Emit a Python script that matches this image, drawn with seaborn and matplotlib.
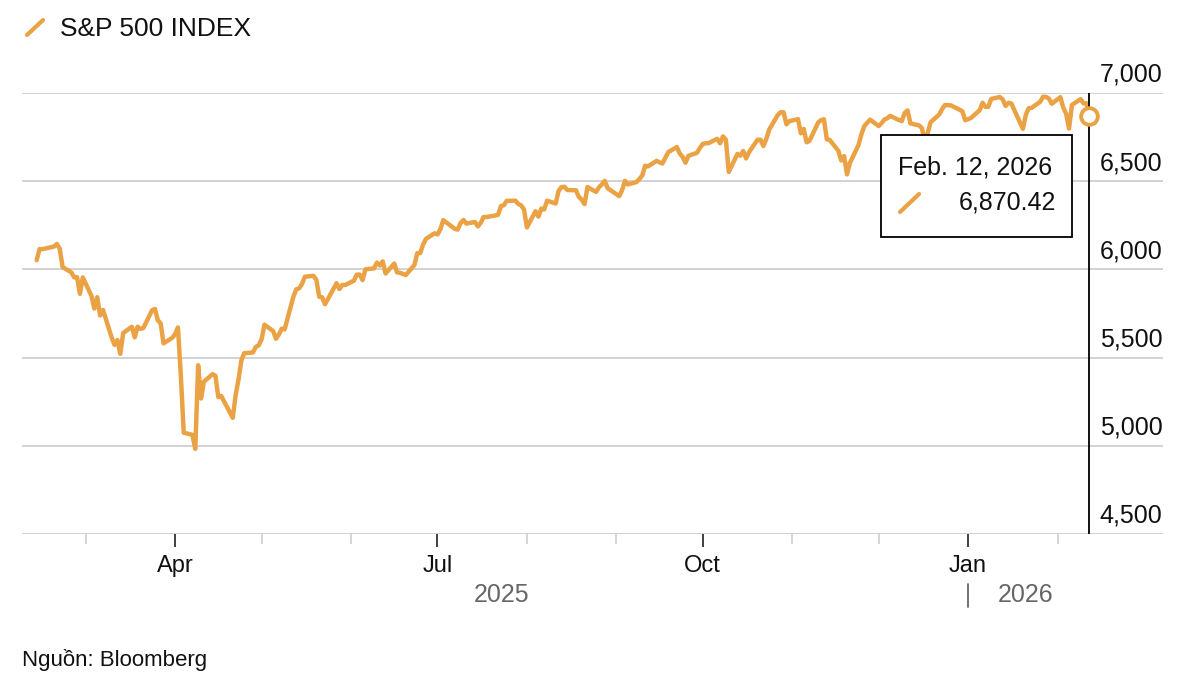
import matplotlib
matplotlib.use("Agg")
import matplotlib.pyplot as plt
import matplotlib.dates as mdates
import matplotlib.transforms as mtransforms
from matplotlib.lines import Line2D
from matplotlib.patches import Rectangle
import numpy as np
import pandas as pd
import seaborn as sns

# S&P 500 Schlusskurse, Handelstage 12.02.2025 - 12.02.2026
feb_25 = [6051.97, 6115.07, 6114.63, 6129.58, 6144.15, 6117.52, 6013.13, 5983.25, 5955.25, 5956.06, 5861.57, 5954.50]
mar_25 = [5849.72, 5778.15, 5842.63, 5738.52, 5770.20, 5614.56, 5572.07, 5599.30, 5521.52, 5638.94, 5675.12,
          5614.66, 5675.29, 5662.89, 5667.56, 5767.57, 5776.65, 5712.20, 5693.31, 5580.94, 5611.85]
apr_25 = [5633.07, 5670.97, 5396.52, 5074.08, 5062.25, 4982.77, 5456.90, 5268.05, 5363.36, 5405.97, 5396.63,
          5275.70, 5282.70, 5158.20, 5287.76, 5375.86, 5484.77, 5525.21, 5528.75, 5560.83, 5569.06]
may_25 = [5604.14, 5686.67, 5650.38, 5606.91, 5631.28, 5663.94, 5659.91, 5844.19, 5886.55, 5892.58, 5916.93,
          5958.38, 5963.60, 5940.46, 5844.61, 5842.01, 5802.82, 5921.54, 5888.55, 5912.17, 5911.69]
jun_25 = [5935.94, 5970.37, 5970.81, 5939.30, 6000.36, 6005.88, 6038.81, 6022.24, 6045.26, 5976.97, 6033.11,
          5982.72, 5980.87, 5967.84, 6025.17, 6092.18, 6092.16, 6141.02, 6173.07, 6204.95]
jul_25 = [6198.01, 6227.42, 6279.35, 6229.98, 6225.52, 6263.26, 6280.46, 6259.75, 6268.56, 6243.76, 6263.70,
          6297.36, 6296.79, 6305.60, 6309.62, 6358.91, 6363.35, 6388.64, 6389.77, 6370.86, 6362.90, 6339.39]
aug_25 = [6238.01, 6329.94, 6299.19, 6345.06, 6340.00, 6389.45, 6373.45, 6445.76, 6466.58, 6468.54, 6449.80,
          6449.15, 6411.37, 6395.78, 6370.17, 6466.91, 6439.32, 6465.94, 6481.40, 6501.86, 6460.26]
sep_25 = [6415.54, 6448.26, 6502.08, 6481.50, 6495.15, 6512.61, 6532.04, 6587.47, 6584.29, 6615.28, 6606.76,
          6600.35, 6631.96, 6664.36, 6693.75, 6656.92, 6637.97, 6604.72, 6643.70, 6661.21, 6688.46]
oct_25 = [6711.20, 6715.35, 6715.79, 6740.28, 6714.59, 6753.72, 6735.11, 6552.51, 6654.72, 6644.31, 6671.06,
          6629.07, 6664.01, 6735.13, 6735.35, 6699.40, 6738.44, 6791.69, 6875.16, 6890.89, 6890.59, 6822.34, 6840.20]
nov_25 = [6851.97, 6771.55, 6796.29, 6720.32, 6728.80, 6832.43, 6846.61, 6850.92, 6737.49, 6734.11, 6672.41,
          6617.32, 6642.16, 6538.76, 6602.99, 6705.12, 6765.88, 6812.61, 6849.09]
dec_25 = [6812.63, 6829.37, 6849.72, 6857.12, 6870.40, 6846.51, 6840.51, 6886.68, 6901.00, 6827.41, 6816.51,
          6800.26, 6721.43, 6774.76, 6834.50, 6878.49, 6909.79, 6932.05, 6929.94, 6905.74, 6896.24, 6845.50]
jan_26 = [6858.47, 6902.05, 6944.82, 6920.93, 6921.46, 6966.28, 6977.27, 6963.74, 6926.60, 6944.47, 6940.01,
          6796.86, 6875.62, 6913.35, 6915.61, 6950.23, 6978.60, 6978.03, 6969.01, 6939.03]
feb_26 = [6976.44, 6917.81, 6882.72, 6798.40, 6932.30, 6964.82, 6941.81, 6941.47, 6870.42]

feiertage = ["2025-02-17", "2025-04-18", "2025-05-26", "2025-06-19", "2025-07-04", "2025-09-01",
             "2025-11-27", "2025-12-25", "2026-01-01", "2026-01-19"]

y_ticks = [4500, 5000, 5500, 6000, 6500, 7000]

ORANGE = "#EAA245"
GRID = "#D2D2D2"

tage = pd.bdate_range("2025-02-12", "2026-02-12")
tage = tage[~tage.isin(pd.to_datetime(feiertage))]
kurse = feb_25 + mar_25 + apr_25 + may_25 + jun_25 + jul_25 + aug_25 + sep_25 + oct_25 + nov_25 + dec_25 + jan_26 + feb_26
df = pd.DataFrame({"Datum": tage, "Kurs": kurse})

sns.set_style("white")
plt.rcParams["font.family"] = ["Liberation Sans", "DejaVu Sans"]

fig = plt.figure(figsize=(12, 6.86), dpi=100)
ax = fig.add_axes([22 / 1200, 152 / 686, 1141 / 1200, 441 / 686])

sns.lineplot(data=df, x="Datum", y="Kurs", ax=ax, color=ORANGE, linewidth=3.2, zorder=3)

ax.set_xlim(pd.Timestamp("2025-02-06 22:00"), pd.Timestamp("2026-03-09 14:00"))
ax.set_ylim(4500, 7000)
ax.set_xlabel("")
ax.set_ylabel("")
for s in ax.spines.values():
    s.set_visible(False)

# y gitter + labels rechts oben am gitter
ax.set_yticks(y_ticks)
ax.tick_params(axis="y", left=False, labelleft=False)
ax.yaxis.grid(True, color=GRID, linewidth=1.4)
ax.set_axisbelow(True)
off = mtransforms.ScaledTranslation(0, 11 / 100, fig.dpi_scale_trans)
trans = mtransforms.blended_transform_factory(ax.transAxes, ax.transData) + off
for v in y_ticks:
    ax.text(0.9445, v, f"{v:,}", transform=trans, ha="left", va="baseline", fontsize=18, color="#111111", clip_on=False)

# x achse: quartale gross, monate klein (nur bis feb 2026)
ax.xaxis.set_major_locator(mdates.MonthLocator(bymonth=[1, 4, 7, 10]))
ax.xaxis.set_major_formatter(mdates.DateFormatter("%b"))
monate = pd.date_range("2025-03-01", "2026-02-01", freq="MS")
ax.set_xticks(monate, minor=True)
ax.tick_params(axis="x", which="major", bottom=True, length=9, width=1.3, color="#333333",
               labelsize=17, pad=6, labelcolor="#111111")
ax.tick_params(axis="x", which="minor", bottom=True, length=7, width=1.3, color=GRID)

# letzter punkt, crosshair
last = df.iloc[-1]
ax.axvline(last["Datum"], color="black", linewidth=1.3, zorder=4)
ax.plot(last["Datum"], last["Kurs"], "o", ms=12, mfc="white", mec=ORANGE, mew=2.8, zorder=7, clip_on=False)

# tooltip
ax.add_patch(Rectangle((0.7528, 0.6735), 0.1675, 0.2313, transform=ax.transAxes, facecolor="white",
                       edgecolor="black", linewidth=1.3, zorder=8))
d = last["Datum"]
ax.text(0.7677, 0.8141, f"{d:%b}. {d.day}, {d.year}", transform=ax.transAxes, fontsize=18,
        ha="left", va="baseline", color="#111111", zorder=9)
ax.text(0.9062, 0.7347, f"{last['Kurs']:,.2f}", transform=ax.transAxes, fontsize=18,
        ha="right", va="baseline", color="#111111", zorder=9)
ax.add_line(Line2D([0.7695, 0.7862], [0.7302, 0.7710], transform=ax.transAxes, color=ORANGE,
                   linewidth=3.0, solid_capstyle="round", zorder=9))

# jahre unter der achse
ax.text(0.4207, -0.1383, "2025", transform=ax.transAxes, ha="center", va="center", fontsize=18, color="#666666")
ax.text(0.8554, -0.1383, "2026", transform=ax.transAxes, ha="left", va="center", fontsize=18, color="#666666")
jt = mtransforms.blended_transform_factory(ax.transData, ax.transAxes)
ax.add_line(Line2D([pd.Timestamp("2026-01-01")] * 2, [-0.114, -0.166], transform=jt, color="#666666",
                   linewidth=1.3, clip_on=False))

# titel mit legendenstrich
fig.add_artist(Line2D([27 / 1200, 43 / 1200], [1 - 35 / 686, 1 - 20 / 686], transform=fig.transFigure,
                      color=ORANGE, linewidth=3.0, solid_capstyle="round"))
fig.text(60 / 1200, 1 - 36 / 686, "S&P 500 INDEX", fontsize=19, ha="left", va="baseline", color="#111111")

fig.text(22 / 1200, 1 - 660 / 686, "Nguồn: Bloomberg", fontsize=16, ha="left", va="center", color="#111111")

fig.savefig("out.png", dpi=100, facecolor="white")
